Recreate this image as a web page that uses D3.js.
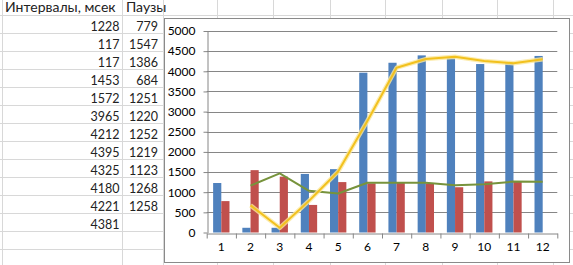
<!DOCTYPE html>
<html>
<head>
<meta charset="utf-8">
<script src="https://cdn.jsdelivr.net/npm/d3@7"></script>
<style>
  body { margin: 0; background: #fff; }
  svg { display: block; font-family: Lato, "Noto Sans", sans-serif; }
</style>
</head>
<body>
<svg id="sheet" width="573" height="265"></svg>
<script>
// table header text
var headerIntervals = "Интервалы, мсек";
var headerPauses = "Паузы";

// categories (measurement number)
var categories = ["1", "2", "3", "4", "5", "6", "7", "8", "9", "10", "11", "12"];

// series values
var intervals = [1228, 117, 117, 1453, 1572, 3965, 4212, 4395, 4325, 4180, 4221, 4381];
var pauses = [779, 1547, 1386, 684, 1251, 1220, 1252, 1219, 1123, 1268, 1258];

// trend lines, starting at category 2
var trendIntervals = [673, 117, 785, 1513, 2769, 4089, 4304, 4360, 4253, 4201, 4301];
var trendPauses = [1163, 1467, 1035, 968, 1236, 1236, 1236, 1171, 1196, 1263, 1258];

// y tick labels
var yTicks = [0, 500, 1000, 1500, 2000, 2500, 3000, 3500, 4000, 4500, 5000];

var svg = d3.select("#sheet");

// ---- spreadsheet background ----
var rowTop = 15.3, rowH = 18;
var colLines = [2, 122, 163, 217, 273, 330, 385, 442, 497, 553];
var grid = svg.append("g").attr("stroke", "#d8d8d8").attr("stroke-width", 1);
for (var r = 0; r < 14; r++) {
  var yy = Math.round(rowTop + r * rowH) + 0.5;
  grid.append("line").attr("x1", 0).attr("x2", 573).attr("y1", yy).attr("y2", yy);
}
colLines.forEach(function (cx) {
  grid.append("line").attr("x1", cx + 0.5).attr("x2", cx + 0.5).attr("y1", 0).attr("y2", 265);
});

var cells = svg.append("g").attr("font-size", "12.5px").attr("fill", "#222");
cells.append("text").attr("x", 5).attr("y", 12).attr("font-size", "14px").text(headerIntervals);
cells.append("text").attr("x", 126).attr("y", 12).attr("font-size", "14px").text(headerPauses);
cells.selectAll(".iv").data(intervals).enter().append("text")
  .attr("x", 119.5).attr("y", function (d, i) { return rowTop + 15.4 + i * rowH; })
  .attr("text-anchor", "end").text(function (d) { return d; });
cells.selectAll(".pv").data(pauses).enter().append("text")
  .attr("x", 158).attr("y", function (d, i) { return rowTop + 15.4 + i * rowH; })
  .attr("text-anchor", "end").text(function (d) { return d; });

// ---- chart ----
svg.append("rect").attr("x", 164.5).attr("y", 18.5).attr("width", 405).attr("height", 244)
  .attr("fill", "#fff").attr("stroke", "#8a8a8a");

var plotLeft = 206.7, plotRight = 557.3, plotTop = 31, plotBottom = 232.5;

var x = d3.scaleBand().domain(categories).range([plotLeft, plotRight]).paddingInner(0.44).paddingOuter(0.22);
var xSub = d3.scaleBand().domain(["iv", "pv"]).range([0, x.bandwidth()]);
var xEdge = d3.scaleLinear().domain([0, categories.length]).range([plotLeft, plotRight]);
var y = d3.scaleLinear().domain([0, 5000]).range([plotBottom, plotTop]);

// gridlines
svg.append("g").selectAll("line").data(yTicks.slice(1)).enter().append("line")
  .attr("x1", plotLeft).attr("x2", plotRight)
  .attr("y1", function (d) { return Math.round(y(d)) + 0.5; })
  .attr("y2", function (d) { return Math.round(y(d)) + 0.5; })
  .attr("stroke", "#868686");

// bars
svg.append("g").selectAll("rect").data(intervals).enter().append("rect")
  .attr("x", function (d, i) { return x(categories[i]) + xSub("iv"); })
  .attr("y", function (d) { return y(d); })
  .attr("width", xSub.bandwidth())
  .attr("height", function (d) { return plotBottom - y(d); })
  .attr("fill", "#4f81bd");
svg.append("g").selectAll("rect").data(pauses).enter().append("rect")
  .attr("x", function (d, i) { return x(categories[i]) + xSub("pv"); })
  .attr("y", function (d) { return y(d); })
  .attr("width", xSub.bandwidth())
  .attr("height", function (d) { return plotBottom - y(d); })
  .attr("fill", "#c0504d");

// axes
var yAxis = d3.axisLeft(y).tickValues(yTicks).tickFormat(d3.format("d"))
  .tickSize(4).tickSizeOuter(0).tickPadding(8);
var gy = svg.append("g").attr("transform", "translate(" + (Math.round(plotLeft) + 0.5) + ",0)").call(yAxis);
gy.select(".domain").attr("stroke", "#868686");
gy.selectAll(".tick line").attr("stroke", "#868686");
gy.selectAll(".tick text").attr("font-size", "12px").attr("fill", "#000").attr("font-family", "Lato, sans-serif");

var xAxis = d3.axisBottom(xEdge).tickValues(d3.range(categories.length + 1)).tickSize(5).tickSizeOuter(0).tickFormat("");
var gx = svg.append("g").attr("transform", "translate(0," + (Math.round(plotBottom) + 0.5) + ")").call(xAxis);
gx.select(".domain").attr("stroke", "#868686");
gx.selectAll(".tick line").attr("stroke", "#868686");

var xLabels = d3.axisBottom(x).tickSize(0).tickPadding(9);
var gxl = svg.append("g").attr("transform", "translate(0," + (Math.round(plotBottom) + 0.5) + ")").call(xLabels);
gxl.select(".domain").remove();
gxl.selectAll(".tick text").attr("font-size", "12px").attr("fill", "#000").attr("font-family", "Lato, sans-serif");

// trend lines
var line = d3.line()
  .x(function (d, i) { return x(categories[i + 1]) + x.bandwidth() / 2; })
  .y(function (d) { return y(d); });

svg.append("path").datum(trendPauses).attr("d", line)
  .attr("fill", "none").attr("stroke", "#77933c").attr("stroke-width", 2).attr("stroke-linejoin", "round");

svg.append("path").datum(trendIntervals).attr("d", line)
  .attr("fill", "none").attr("stroke", "#fbe79a").attr("stroke-width", 4.5).attr("stroke-opacity", 0.8)
  .attr("stroke-linejoin", "round");
svg.append("path").datum(trendIntervals).attr("d", line)
  .attr("fill", "none").attr("stroke", "#f2c11e").attr("stroke-width", 2).attr("stroke-linejoin", "round");
</script>
</body>
</html>
